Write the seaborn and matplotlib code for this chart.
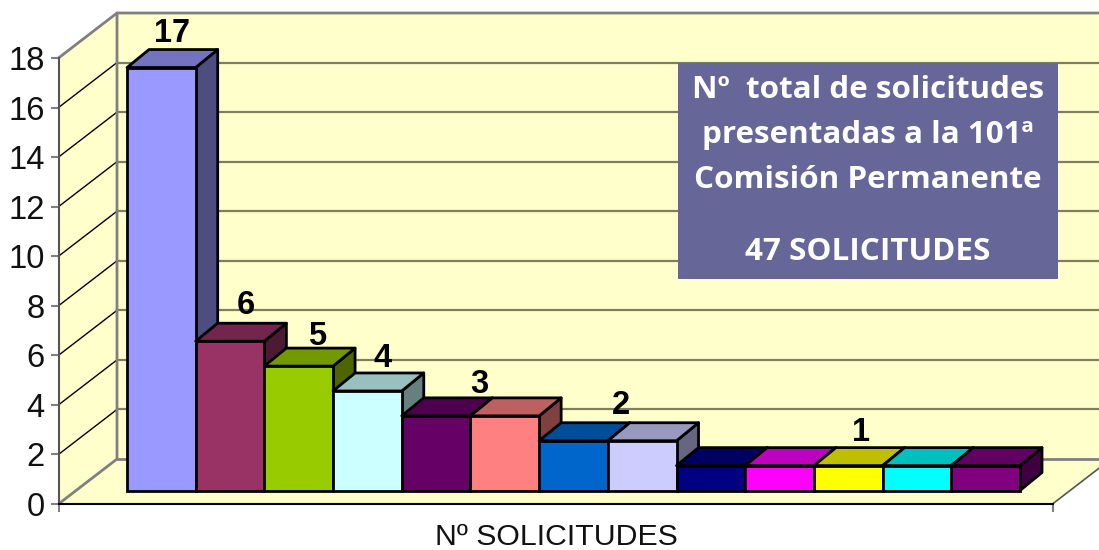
import matplotlib
matplotlib.use("Agg")
import matplotlib.pyplot as plt
from matplotlib.patches import Polygon, Rectangle
import seaborn as sns

series_names = [f"S{i}" for i in range(1, 14)]
values = [17, 6, 5, 4, 3, 3, 2, 2, 1, 1, 1, 1, 1]
bar_colors = ["#9999FF", "#993366", "#99CC00", "#CCFFFF", "#660066", "#FF8080", "#0066CC",
              "#CCCCFF", "#000080", "#FF00FF", "#FFFF00", "#00FFFF", "#800080"]
label_texts = ["17", "6", "5", "4", "3", "2", "1"]
label_values = [17, 6, 5, 4, 3, 2, 1]
label_xcenters = [0, 1, 2, 3, 4.5, 6.5, 10]
y_ticks = [0, 2, 4, 6, 8, 10, 12, 14, 16, 18]
x_title = "Nº SOLICITUDES"
box_lines = ["Nº  total de solicitudes", "presentadas a la 101ª", "Comisión Permanente", "47 SOLICITUDES"]

W, H = 1099, 550
WALL = "#FFFFCC"
GRAY = "#808080"
sns.set_theme(style="white")
plt.rcParams["font.family"] = ["Liberation Sans", "DejaVu Sans"]
fig = plt.figure(figsize=(W / 100, H / 100), dpi=100, facecolor="white")


def px_axes(x0, x1, y_top, y_bot, **kw):
    return fig.add_axes([x0 / W, 1 - y_bot / H, (x1 - x0) / W, (y_bot - y_top) / H], **kw)


# Wall and floor backdrop, in pixel coordinates
bg = px_axes(0, W, 0, H, zorder=0)
bg.set_xlim(0, W); bg.set_ylim(H, 0); bg.axis("off")
fx0, fx1, fy0, fy18 = 58.5, 1052.5, 504, 58
ddx, ddy = 58.5, -45
unit = (fy0 - fy18) / 18
bx0, by0, by18 = fx0 + ddx, fy0 + ddy, fy18 + ddy
far = 1160
bg.add_patch(Polygon([(bx0, by18), (far, by18), (far, by0), (bx0, by0)], fc=WALL, ec="none"))
bg.add_patch(Polygon([(fx0, fy18), (bx0, by18), (bx0, by0), (fx0, fy0)], fc=WALL, ec="none"))
bg.add_patch(Polygon([(fx0, fy0), (bx0, by0), (far, by0), (far, fy0 + ddy * (far - fx1) / ddx),
                      (fx1, fy0)], fc=WALL, ec="none"))
for t in y_ticks[1:-1]:
    yf = fy0 - t * unit
    bg.plot([fx0, bx0], [yf, yf + ddy], color="black", lw=1)
    bg.plot([bx0, far], [yf + ddy, yf + ddy], color="#7F7F60", lw=1.6)
bg.plot([bx0, far], [by0, by0], color=GRAY, lw=2)
bg.plot([fx0, bx0, far], [fy18, by18, by18], color=GRAY, lw=2)
bg.plot([fx0, bx0, bx0], [fy0, by0, by18], color=GRAY, lw=2)
bg.plot([fx1, far], [fy0, fy0 + ddy * (far - fx1) / ddx], color="#555555", lw=1.2)

# Real value axis on the front plane
ax_y = px_axes(fx0, fx1, fy18, fy0, zorder=1)
ax_y.patch.set_visible(False)
ax_y.set_ylim(0, 18)
ax_y.set_xlim(0, 1)
ax_y.set_yticks(y_ticks)
ax_y.set_yticklabels([str(t) for t in y_ticks], fontsize=23.6, color="#111111")
ax_y.set_xticks([0, 1])
ax_y.set_xticklabels([])
ax_y.tick_params(axis="y", left=True, length=6, width=1.5, color=GRAY, pad=4)
ax_y.tick_params(axis="x", bottom=True, length=6, width=1.5, color=GRAY)
for s in ("top", "right"):
    ax_y.spines[s].set_visible(False)
ax_y.spines["left"].set_color("#555555")
ax_y.spines["left"].set_linewidth(1.5)
ax_y.spines["bottom"].set_color("black")
ax_y.spines["bottom"].set_linewidth(1.5)
ax_y.set_xlabel(x_title, fontsize=21.8, color="#111111")
ax_y.xaxis.set_label_coords((556 - fx0) / (fx1 - fx0), -(537 - fy0) / (fy0 - fy18), transform=ax_y.transAxes)
ax_y.xaxis.label.set_verticalalignment("center")

# Bars: front plane sits inside the floor
bar_w = (1020 - 127) / 13
bar_unit = 24.88
bar_base = 490.5
ax = fig.add_axes([0, 0, 1, 1], zorder=2)
ax.patch.set_visible(False)
sns.barplot(x=series_names, y=values, hue=series_names, palette=bar_colors, legend=False,
            width=1, saturation=1, edgecolor="black", linewidth=2, ax=ax)
ax.set_xlim((0 - 127) / bar_w - 0.5, (W - 127) / bar_w - 0.5)
ax.set_ylim((bar_base - H) / bar_unit, bar_base / bar_unit)
ax.axis("off")
dx, dy = 22 / bar_w, 18 / bar_unit
for i, p in enumerate(ax.patches[:len(values)]):
    x0, x1, h = p.get_x(), p.get_x() + p.get_width(), p.get_height()
    p.set_zorder(5 + 3 * i)
    c = matplotlib.colors.to_rgb(p.get_facecolor())
    top_c = tuple(v * 0.75 for v in c)
    side_c = tuple(v * 0.5 for v in c)
    ax.add_patch(Polygon([(x1, 0), (x1 + dx, dy), (x1 + dx, h + dy), (x1, h)], fc=side_c, ec="black", lw=2,
                         joinstyle="round", zorder=3 + 3 * i))
    ax.add_patch(Polygon([(x0, h), (x0 + dx, h + dy), (x1 + dx, h + dy), (x1, h)], fc=top_c, ec="black", lw=2,
                         joinstyle="round", zorder=4 + 3 * i))

label_offsets = [(11, 34), (16, 36), (18, 30), (15, 32), (9, 31), (13, 35), (13, 33)]
for txt, v, xc, off in zip(label_texts, label_values, label_xcenters, label_offsets):
    ax.annotate(txt, (xc, v), xytext=off, textcoords="offset pixels", ha="center", va="center",
                fontsize=23.5, fontweight="bold", color="black", zorder=100)

# Text panel
top = px_axes(0, W, 0, H, zorder=3)
top.set_xlim(0, W); top.set_ylim(H, 0); top.axis("off")
top.add_patch(Rectangle((678, 63), 380, 216, fc="#666699", ec="none"))
for line, y in zip(box_lines, [90, 135, 180, 252]):
    top.text(868, y, line, ha="center", va="center", color="white", fontsize=22.6, fontweight="bold",
             family=["Open Sans", "DejaVu Sans"])

fig.savefig("out.png", dpi=100)
